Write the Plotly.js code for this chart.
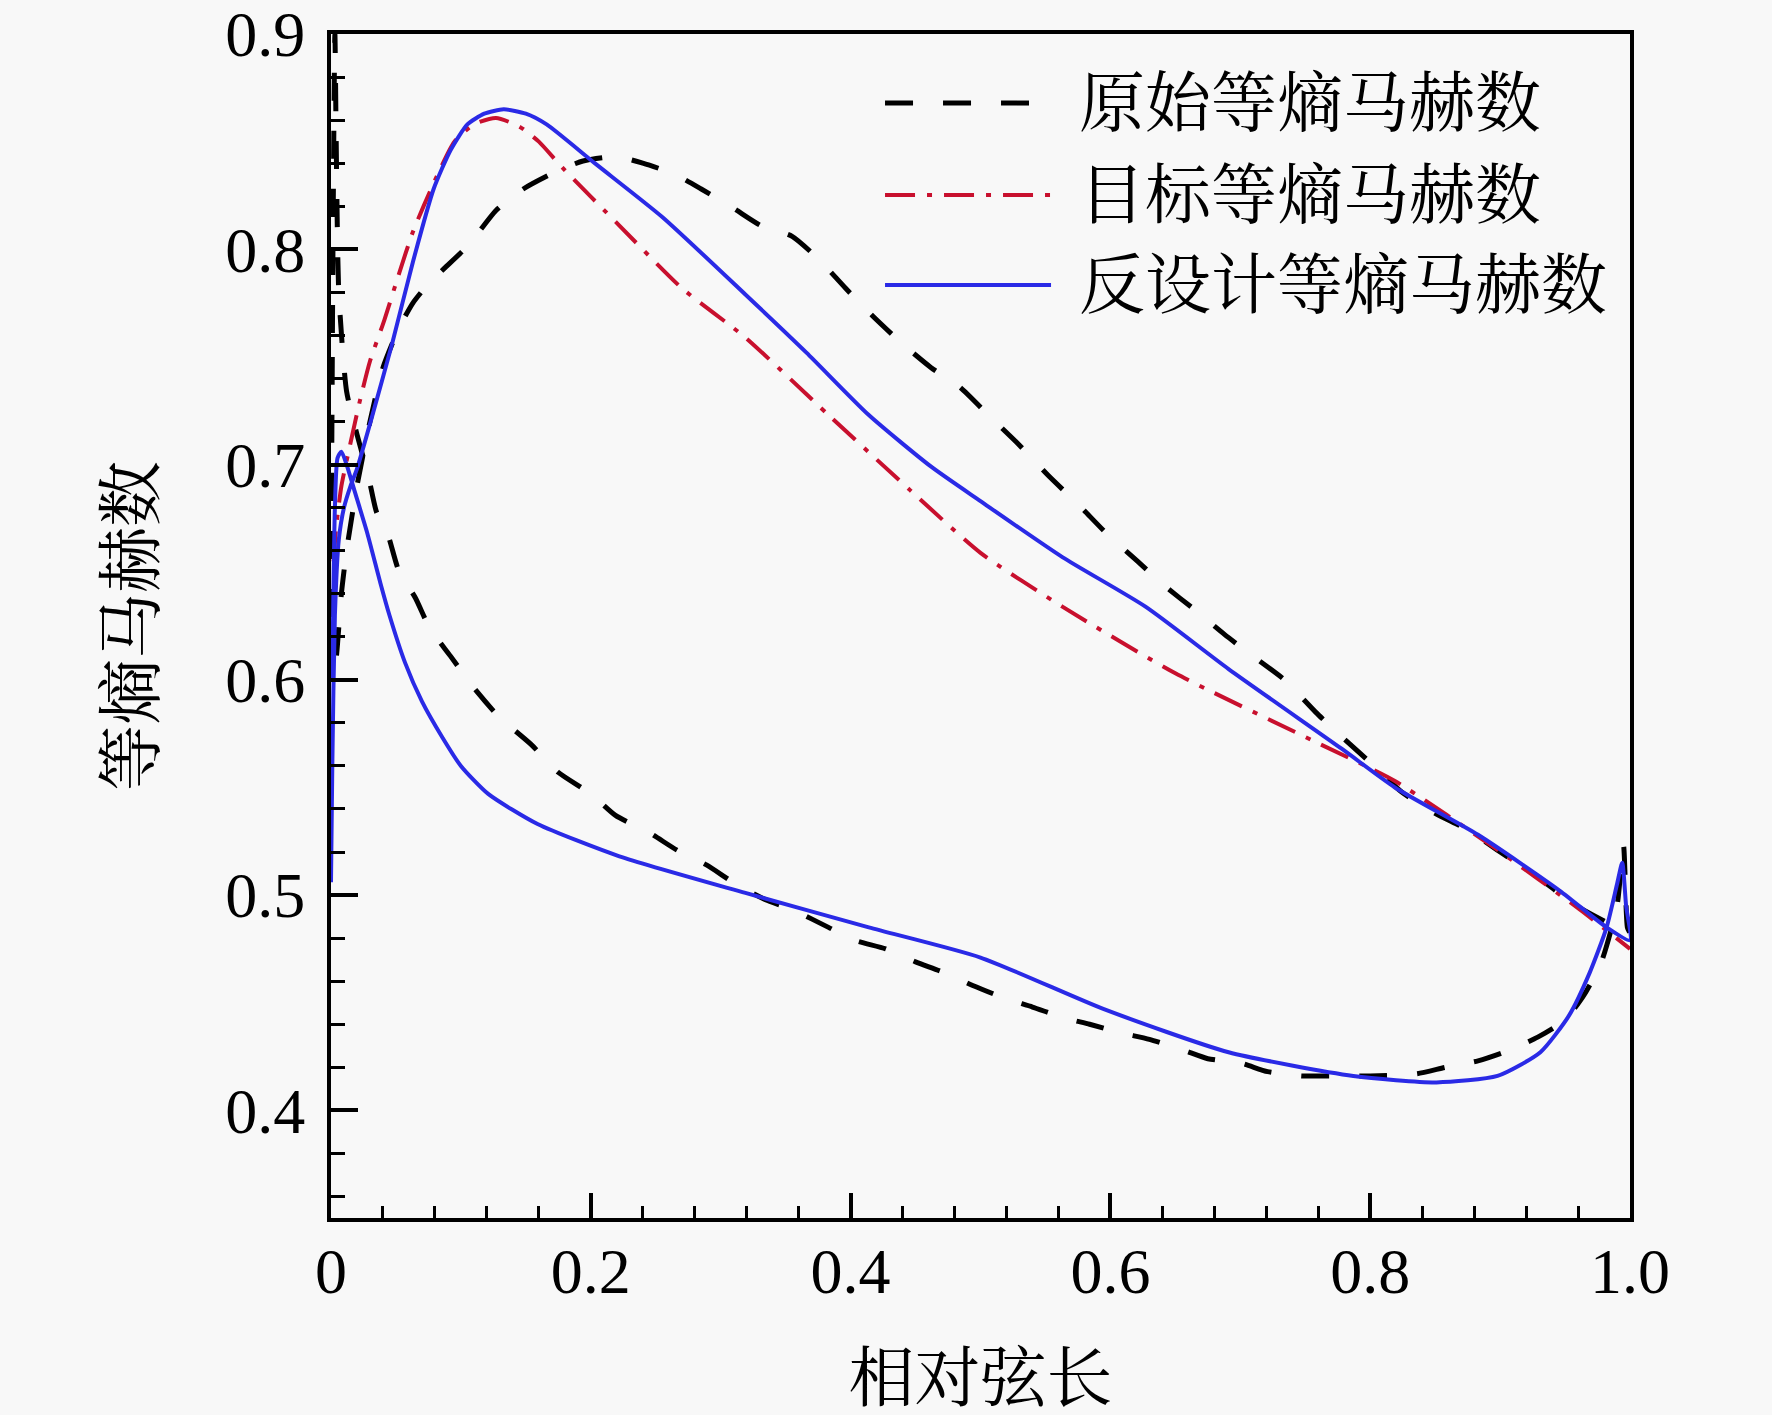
<!DOCTYPE html>
<html>
<head>
<meta charset="utf-8">
<script src="https://cdn.plot.ly/plotly-3.0.1.min.js"></script>
<style>
  html, body { margin: 0; padding: 0; background: #f8f8f8; }
  #graph { width: 1772px; height: 1415px; }
</style>
</head>
<body>
<div id="graph"></div>
<script>
/* ----- chart data ----- */
var seriesNames = ['原始等熵马赫数', '目标等熵马赫数', '反设计等熵马赫数'];

// original blade: LE spike, suction side to TE, TE spike, pressure side back to LE
var origX = [0.003, 0.001, 0.001, 0.004, 0.008, 0.012, 0.020, 0.030, 0.040, 0.052, 0.063, 0.075, 0.087,
    0.106, 0.127, 0.148, 0.173, 0.194, 0.220, 0.240, 0.264, 0.285, 0.310, 0.331, 0.355, 0.376,
    0.396, 0.417, 0.440, 0.462, 0.484, 0.506, 0.530, 0.552, 0.576, 0.597, 0.621, 0.641, 0.666,
    0.688, 0.712, 0.734, 0.758, 0.779, 0.803, 0.824, 0.850, 0.876, 0.900, 0.930, 0.956, 0.980,
    1.000, 0.998, 0.995, 0.990, 0.978, 0.965, 0.950, 0.929, 0.903, 0.883, 0.858, 0.836, 0.800,
    0.766, 0.747, 0.721, 0.700, 0.675, 0.656, 0.630, 0.608, 0.584, 0.564, 0.540, 0.519, 0.494,
    0.472, 0.450, 0.427, 0.403, 0.383, 0.356, 0.334, 0.312, 0.289, 0.266, 0.245, 0.219, 0.200,
    0.175, 0.154, 0.129, 0.109, 0.092, 0.076, 0.065, 0.052, 0.044, 0.035, 0.029, 0.020, 0.012,
    0.006, 0.004, 0.003];
var origY = [0.900, 0.750, 0.600, 0.610, 0.640, 0.660, 0.690, 0.720, 0.745, 0.763, 0.775, 0.784, 0.791,
    0.802, 0.818, 0.828, 0.836, 0.841, 0.843, 0.840, 0.835, 0.828, 0.819, 0.811, 0.806, 0.795,
    0.782, 0.769, 0.756, 0.745, 0.736, 0.723, 0.709, 0.695, 0.681, 0.668, 0.655, 0.644, 0.632,
    0.621, 0.610, 0.600, 0.585, 0.573, 0.560, 0.548, 0.538, 0.530, 0.520, 0.508, 0.496, 0.488,
    0.482, 0.485, 0.523, 0.495, 0.469, 0.454, 0.442, 0.434, 0.427, 0.423, 0.420, 0.417, 0.416,
    0.416, 0.416, 0.418, 0.422, 0.424, 0.428, 0.433, 0.436, 0.440, 0.443, 0.448, 0.452, 0.458,
    0.464, 0.469, 0.475, 0.479, 0.485, 0.493, 0.498, 0.505, 0.514, 0.521, 0.529, 0.537, 0.547,
    0.557, 0.570, 0.583, 0.597, 0.611, 0.624, 0.638, 0.651, 0.667, 0.678, 0.694, 0.714, 0.734,
    0.780, 0.850, 0.900];

// target distribution (suction side, pressure side lies under the inverse-design curve)
var targetX = [0.002, 0.004, 0.008, 0.015, 0.022, 0.030, 0.041, 0.052, 0.063, 0.080, 0.095, 0.110,
    0.127, 0.145, 0.160, 0.178, 0.222, 0.270, 0.319, 0.383, 0.446, 0.500, 0.563, 0.650, 0.755,
    0.819, 0.898, 0.962, 1.000];
var targetY = [0.655, 0.671, 0.690, 0.710, 0.729, 0.748, 0.767, 0.788, 0.808, 0.832, 0.850, 0.858,
    0.861, 0.857, 0.850, 0.838, 0.811, 0.782, 0.759, 0.723, 0.688, 0.659, 0.634, 0.603, 0.572,
    0.553, 0.521, 0.493, 0.475];

// inverse design result: suction side LE->TE, TE spike, pressure side TE->LE
var designX = [0.000, 0.001, 0.003, 0.006, 0.010, 0.015, 0.020, 0.031, 0.047, 0.063, 0.079, 0.092,
    0.105, 0.118, 0.133, 0.150, 0.166, 0.203, 0.255, 0.319, 0.366, 0.414, 0.462, 0.500, 0.563,
    0.627, 0.691, 0.778, 0.819, 0.883, 0.946, 0.982, 1.000,
    0.997, 0.994, 0.990, 0.982, 0.969, 0.953, 0.931, 0.898, 0.851, 0.787, 0.691, 0.595, 0.500,
    0.414, 0.319, 0.222, 0.159, 0.121, 0.100, 0.086, 0.070, 0.057, 0.045, 0.038, 0.028, 0.018,
    0.012, 0.008, 0.005, 0.003, 0.001];
var designY = [0.506, 0.560, 0.630, 0.665, 0.680, 0.690, 0.698, 0.721, 0.756, 0.794, 0.828, 0.846,
    0.858, 0.863, 0.865, 0.863, 0.858, 0.840, 0.815, 0.779, 0.752, 0.723, 0.699, 0.683, 0.657,
    0.634, 0.605, 0.568, 0.550, 0.528, 0.502, 0.485, 0.479,
    0.495, 0.515, 0.505, 0.485, 0.464, 0.444, 0.427, 0.416, 0.413, 0.416, 0.427, 0.447, 0.471,
    0.485, 0.501, 0.518, 0.533, 0.547, 0.560, 0.573, 0.590, 0.608, 0.630, 0.645, 0.668, 0.688,
    0.700, 0.706, 0.703, 0.680, 0.600];

var xTickVals = [0, 0.2, 0.4, 0.6, 0.8, 1.0];
var xTickText = ['0', '0.2', '0.4', '0.6', '0.8', '1.0'];
var yTickVals = [0.4, 0.5, 0.6, 0.7, 0.8, 0.9];
var yTickText = ['0.4', '0.5', '0.6', '0.7', '0.8', '0.9'];

/* ----- styles ----- */
var serif = '"Liberation Serif", "Times New Roman", "Noto Serif CJK SC", "Noto Sans CJK SC", serif';
var lineStyles = [
    {color: '#000000', width: 5, dash: '28px,30px', shape: 'spline', smoothing: 0.6},
    {color: '#c8102e', width: 4, dash: '30px,12px,5px,12px', shape: 'spline', smoothing: 0.6},
    {color: '#2a2ae6', width: 4, dash: 'solid', shape: 'spline', smoothing: 0.6}
];

var traces = [
    {x: origX, y: origY, mode: 'lines', name: seriesNames[0], line: lineStyles[0]},
    {x: targetX, y: targetY, mode: 'lines', name: seriesNames[1], line: lineStyles[1]},
    {x: designX, y: designY, mode: 'lines', name: seriesNames[2], line: lineStyles[2]}
];

/* ----- hand made legend (long line samples) ----- */
var legendRowsY = [0.9417, 0.864, 0.788];
var shapes = [];
var annotations = [];
for (var i = 0; i < seriesNames.length; i++) {
    shapes.push({
        type: 'line', xref: 'paper', yref: 'paper',
        x0: 0.4265, x1: 0.5543, y0: legendRowsY[i], y1: legendRowsY[i],
        line: {color: lineStyles[i].color, width: lineStyles[i].width, dash: lineStyles[i].dash}
    });
    annotations.push({
        xref: 'paper', yref: 'paper', x: 0.5743, y: legendRowsY[i],
        xanchor: 'left', yanchor: 'middle', showarrow: false,
        text: seriesNames[i],
        font: {family: serif, size: 66, color: '#000'}
    });
}

var layout = {
    width: 1772,
    height: 1415,
    paper_bgcolor: '#f8f8f8',
    plot_bgcolor: '#f8f8f8',
    showlegend: false,
    margin: {l: 331, r: 142, t: 34, b: 197},
    font: {family: serif, size: 64, color: '#000'},
    xaxis: {
        range: [0, 1],
        tickvals: xTickVals,
        ticktext: xTickText,
        ticks: 'inside',
        ticklen: 25,
        tickwidth: 4,
        tickcolor: '#000',
        ticklabelstandoff: -6,
        ticklabeloverflow: 'allow',
        minor: {dtick: 0.04, ticks: 'inside', ticklen: 12, tickwidth: 3, tickcolor: '#000', showgrid: false},
        showline: true,
        linewidth: 4,
        linecolor: '#000',
        mirror: true,
        showgrid: false,
        zeroline: false,
        tickfont: {family: serif, size: 64},
        title: {text: '相对弦长', font: {family: serif, size: 66}, standoff: 52}
    },
    yaxis: {
        range: [0.35, 0.9],
        tickvals: yTickVals,
        ticktext: yTickText,
        ticks: 'inside',
        ticklen: 27,
        tickwidth: 4,
        tickcolor: '#000',
        ticklabelstandoff: 9,
        ticklabeloverflow: 'allow',
        minor: {dtick: 0.02, tick0: 0, ticks: 'inside', ticklen: 14, tickwidth: 3, tickcolor: '#000', showgrid: false},
        showline: true,
        linewidth: 4,
        linecolor: '#000',
        mirror: true,
        showgrid: false,
        zeroline: false,
        tickfont: {family: serif, size: 64},
        title: {text: '等熵马赫数', font: {family: serif, size: 66}, standoff: 50}
    },
    shapes: shapes,
    annotations: annotations
};

Plotly.newPlot('graph', traces, layout, {staticPlot: true});
</script>
</body>
</html>
